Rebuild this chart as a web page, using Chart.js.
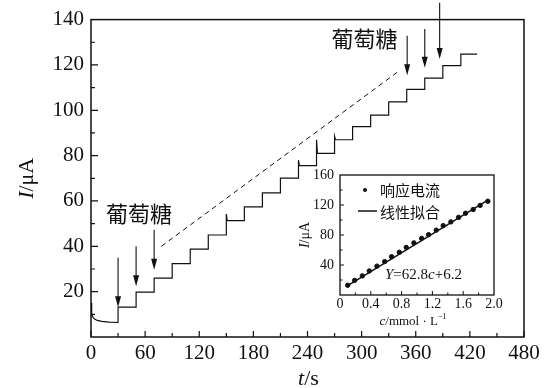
<!DOCTYPE html>
<html>
<head>
<meta charset="utf-8">
<script src="https://cdn.jsdelivr.net/npm/chart.js@4.4.0/dist/chart.umd.min.js"></script>
<style>
html, body { margin: 0; padding: 0; background: #fff; }
#wrap { position: relative; width: 546px; height: 388px; }
#main { position: absolute; left: 0; top: 0; }
#inset { position: absolute; left: 290px; top: 160px; }
</style>
</head>
<body>
<div id="wrap">
  <canvas id="main" width="546" height="388"></canvas>
  <canvas id="inset" width="230" height="175"></canvas>
</div>
<script>
// Amperometric response to successive glucose additions

// baseline decay before the first addition
const baseT = [0, 0.5, 1, 2, 4, 7, 12, 20, 30];
const baseI = [15, 12, 10, 8.8, 7.9, 7.3, 6.9, 6.6, 6.4];

// glucose additions: time (s), level after the step (uA), overshoot peak (uA)
const stepT = [30, 50, 70, 90, 110, 130, 150, 170, 190, 210, 230, 250, 270, 290, 310, 330, 350, 370, 390, 410];
const stepI = [13.2, 19.8, 26, 32.4, 38.8, 45, 51.3, 57.4, 63.6, 70.1, 75.6, 81, 87, 92.8, 97.9, 103.7, 109.2, 114.2, 119.7, 124.8];
const peakI = [null, null, null, null, null, null, 54.2, null, null, null, 78, 87, 88.5, null, null, null, null, null, null, null];
const endT = 428;

// dashed guide line
const dashT = [78, 342];
const dashI = [40, 117.5];

// arrows marking the additions
const arrowT = [30, 50, 70, 350.5, 370, 386.5];
const arrowTopI = [35, 40, 47.2, 132.9, 135.8, 147.4];
const arrowTipI = [13.1, 22.4, 29.7, 115.4, 118.8, 122.6];

// "葡萄糖" labels (centre, in data units)
const labelText = ['葡萄糖', '葡萄糖'];
const labelT = [53.2, 303.2];
const labelI = [54.5, 131.4];

// axis ticks
const xMajor = [0, 60, 120, 180, 240, 300, 360, 420, 480];
const xMinor = [30, 90, 150, 210, 270, 330, 390, 450];
const yMajor = [20, 40, 60, 80, 100, 120];
const yMinor = [10, 30, 50, 70, 90, 110, 130];

// inset: calibration points and linear fit
const insetC = [0.1, 0.19, 0.29, 0.38, 0.48, 0.58, 0.67, 0.77, 0.86, 0.96, 1.06, 1.15, 1.25, 1.34, 1.44, 1.54, 1.63, 1.73, 1.82, 1.92];
const insetI = [13, 19.5, 25.5, 32, 38.5, 44.5, 51, 57, 63.5, 69.5, 75.5, 80.5, 86.5, 92.5, 97.5, 103.5, 109, 114, 119.5, 125];
const fitC = [0.1, 1.92];
const fitI = [12.5, 126.5];
const insetXMajor = [0.4, 0.8, 1.2, 1.6];
const insetXMinor = [0.2, 0.6, 1.0, 1.4, 1.8];
const insetYMajor = [40, 80, 120];
const insetYMinor = [20, 60, 100, 140];

Chart.defaults.font.family = "'Liberation Serif', 'Times New Roman', serif";
Chart.defaults.color = '#111';
Chart.defaults.animation = false;

// build the step trace
function buildTrace() {
    const pts = baseT.map((t, i) => ({ x: t, y: baseI[i] }));
    let prev = baseI[baseI.length - 1];
    stepT.forEach((t, k) => {
        pts.push({ x: t, y: prev });
        if (peakI[k] !== null) {
            pts.push({ x: t, y: peakI[k] });
            pts.push({ x: t + 1, y: stepI[k] });
        } else {
            pts.push({ x: t, y: stepI[k] });
        }
        prev = stepI[k];
    });
    pts.push({ x: endT, y: prev });
    return pts;
}

function drawTicks(ctx, chart, axis, values, len) {
    const a = chart.chartArea;
    const sc = chart.scales[axis];
    ctx.beginPath();
    values.forEach(v => {
        const p = sc.getPixelForValue(v);
        if (axis === 'x') {
            ctx.moveTo(p, a.bottom);
            ctx.lineTo(p, a.bottom - len);
        } else {
            ctx.moveTo(a.left, p);
            ctx.lineTo(a.left + len, p);
        }
    });
    ctx.stroke();
}

// draw a run of text pieces [text, italic, sizeScale, rise]
function drawRuns(ctx, runs, x, y, size, align) {
    const fam = "'Liberation Serif', serif";
    let total = 0;
    runs.forEach(r => {
        ctx.font = (r[1] ? 'italic ' : '') + Math.round(size * (r[2] || 1)) + 'px ' + fam;
        total += ctx.measureText(r[0]).width;
    });
    let cx = align === 'center' ? x - total / 2 : x;
    ctx.textAlign = 'left';
    ctx.textBaseline = 'middle';
    runs.forEach(r => {
        ctx.font = (r[1] ? 'italic ' : '') + Math.round(size * (r[2] || 1)) + 'px ' + fam;
        ctx.fillText(r[0], cx, y - (r[3] || 0));
        cx += ctx.measureText(r[0]).width;
    });
}

const mainDecor = {
    id: 'mainDecor',
    afterDraw(chart) {
        const ctx = chart.ctx;
        const a = chart.chartArea;
        const xs = chart.scales.x, ys = chart.scales.y;
        ctx.save();
        ctx.strokeStyle = '#111';
        ctx.fillStyle = '#111';
        ctx.lineWidth = 1.5;
        ctx.strokeRect(a.left, a.top, a.right - a.left, a.bottom - a.top);
        ctx.lineWidth = 1.2;
        drawTicks(ctx, chart, 'x', xMajor, 6);
        drawTicks(ctx, chart, 'x', xMinor, 4);
        drawTicks(ctx, chart, 'y', yMajor, 7);
        drawTicks(ctx, chart, 'y', yMinor, 4);

        // arrows
        ctx.lineWidth = 1.1;
        arrowT.forEach((t, i) => {
            const x = xs.getPixelForValue(t);
            const y0 = ys.getPixelForValue(arrowTopI[i]);
            const y1 = ys.getPixelForValue(arrowTipI[i]);
            ctx.beginPath();
            ctx.moveTo(x, y0);
            ctx.lineTo(x, y1 - 8);
            ctx.stroke();
            ctx.beginPath();
            ctx.moveTo(x - 3, y1 - 11);
            ctx.lineTo(x + 3, y1 - 11);
            ctx.lineTo(x, y1);
            ctx.closePath();
            ctx.fill();
        });

        // glucose labels
        ctx.font = "22px 'Noto Sans CJK SC'";
        ctx.textAlign = 'center';
        ctx.textBaseline = 'middle';
        labelText.forEach((s, i) => {
            ctx.fillText(s, xs.getPixelForValue(labelT[i]), ys.getPixelForValue(labelI[i]));
        });

        // axis titles
        drawRuns(ctx, [['t', true], ['/s', false]], (a.left + a.right) / 2 + 1, 379, 22, 'center');
        ctx.translate(27, (a.top + a.bottom) / 2);
        ctx.rotate(-Math.PI / 2);
        drawRuns(ctx, [['I', true], ['/\u03bcA', false]], 0, 0, 22, 'center');
        ctx.restore();
    }
};

new Chart(document.getElementById('main'), {
    type: 'line',
    data: {
        datasets: [{
            data: buildTrace(),
            borderColor: '#111',
            borderWidth: 1.2,
            pointRadius: 0,
            tension: 0
        }, {
            data: dashT.map((t, i) => ({ x: t, y: dashI[i] })),
            borderColor: '#111',
            borderWidth: 1,
            borderDash: [5, 4],
            pointRadius: 0,
            tension: 0
        }]
    },
    options: {
        responsive: false,
        layout: { padding: { top: 17, right: 22, left: 0, bottom: 0 } },
        plugins: { legend: { display: false }, tooltip: { enabled: false } },
        scales: {
            x: {
                type: 'linear', min: 0, max: 480,
                grid: { display: false, drawTicks: false },
                border: { display: false },
                ticks: { stepSize: 60, font: { size: 21 }, padding: 4, maxRotation: 0 },
                afterFit(s) { s.height = 51; }
            },
            y: {
                min: 0, max: 140,
                grid: { display: false, drawTicks: false },
                border: { display: false },
                ticks: { stepSize: 20, font: { size: 21 }, padding: 7,
                    callback: v => v === 0 ? '' : v },
                afterFit(s) { s.width = 91; }
            }
        }
    },
    plugins: [mainDecor]
});

const insetDecor = {
    id: 'insetDecor',
    afterDraw(chart) {
        const ctx = chart.ctx;
        const a = chart.chartArea;
        ctx.save();
        ctx.strokeStyle = '#111';
        ctx.fillStyle = '#111';
        ctx.lineWidth = 1.3;
        ctx.strokeRect(a.left, a.top, a.right - a.left, a.bottom - a.top);
        ctx.lineWidth = 1;
        drawTicks(ctx, chart, 'x', insetXMajor, 4);
        drawTicks(ctx, chart, 'x', insetXMinor, 2.5);
        drawTicks(ctx, chart, 'y', insetYMajor, 4);
        drawTicks(ctx, chart, 'y', insetYMinor, 2.5);

        // legend
        ctx.beginPath();
        ctx.arc(a.left + 25, a.top + 15, 2, 0, Math.PI * 2);
        ctx.fill();
        ctx.lineWidth = 1.5;
        ctx.beginPath();
        ctx.moveTo(a.left + 18, a.top + 36);
        ctx.lineTo(a.left + 37, a.top + 36);
        ctx.stroke();
        ctx.font = "15px 'Noto Sans CJK SC'";
        ctx.textAlign = 'left';
        ctx.textBaseline = 'middle';
        ctx.fillText('响应电流', a.left + 40, a.top + 15);
        ctx.fillText('线性拟合', a.left + 40, a.top + 37);

        // fit equation
        drawRuns(ctx, [['Y', true], ['=62.8', false], ['c', true], ['+6.2', false]], a.left + 45, a.top + 100, 15, 'left');

        // axis titles
        drawRuns(ctx, [['c', true], ['/mmol \u00b7 L', false], ['\u22121', false, 0.65, 5]], (a.left + a.right) / 2 - 4, 162, 13, 'center');
        ctx.translate(15, (a.top + a.bottom) / 2);
        ctx.rotate(-Math.PI / 2);
        drawRuns(ctx, [['I', true], ['/\u03bcA', false]], 0, 0, 14, 'center');
        ctx.restore();
    }
};

new Chart(document.getElementById('inset'), {
    type: 'scatter',
    data: {
        datasets: [{
            data: insetC.map((c, i) => ({ x: c, y: insetI[i] })),
            backgroundColor: '#111',
            borderColor: '#111',
            pointRadius: 2.2,
            showLine: false
        }, {
            type: 'line',
            data: fitC.map((c, i) => ({ x: c, y: fitI[i] })),
            borderColor: '#111',
            borderWidth: 1.5,
            pointRadius: 0,
            tension: 0
        }]
    },
    options: {
        responsive: false,
        layout: { padding: { top: 15, right: 26, left: 0, bottom: 0 } },
        plugins: { legend: { display: false }, tooltip: { enabled: false } },
        scales: {
            x: {
                type: 'linear', min: 0, max: 2.0,
                grid: { display: false, drawTicks: false },
                border: { display: false },
                ticks: { stepSize: 0.4, font: { size: 14 }, padding: 1, maxRotation: 0,
                    callback: v => v === 0 ? '0' : v.toFixed(1) },
                afterFit(s) { s.height = 40; }
            },
            y: {
                min: 0, max: 160,
                grid: { display: false, drawTicks: false },
                border: { display: false },
                ticks: { stepSize: 40, font: { size: 14 }, padding: 6,
                    callback: v => v === 0 ? '' : v },
                afterFit(s) { s.width = 50; }
            }
        }
    },
    plugins: [insetDecor]
});
</script>
</body>
</html>
